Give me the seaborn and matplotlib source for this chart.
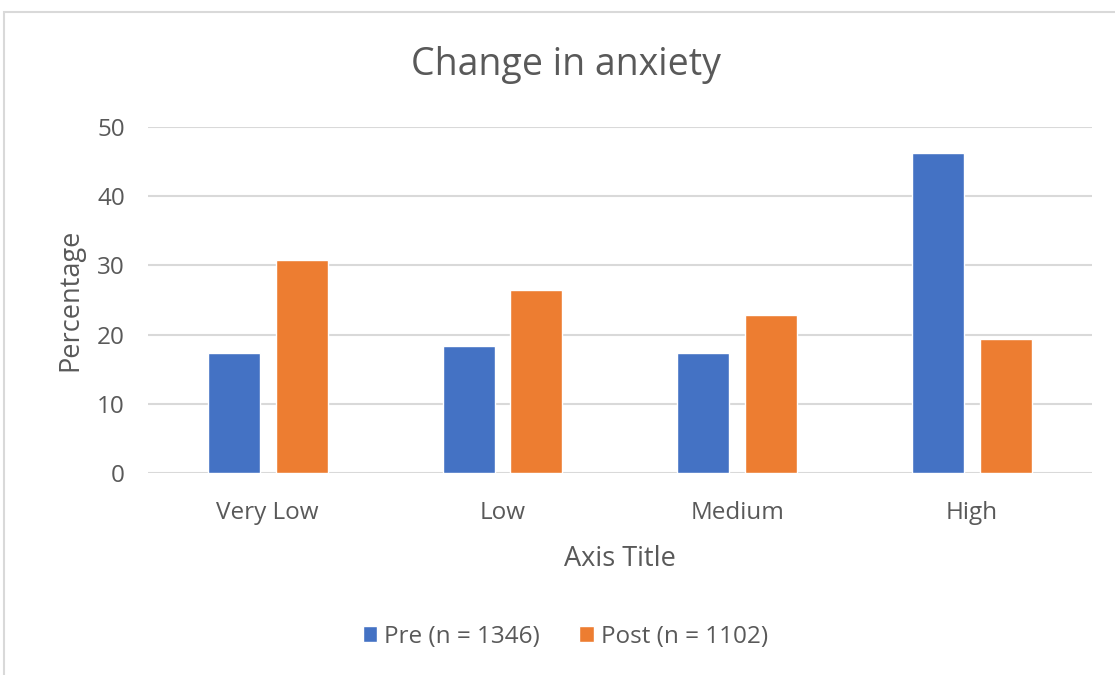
import pandas as pd
import numpy as np
import matplotlib.pyplot as plt
from matplotlib.patches import Rectangle
import seaborn as sns

# data
categories = ["Very Low", "Low", "Medium", "High"]
pre_values = [17.3, 18.4, 17.3, 46.2]
post_values = [30.8, 26.5, 22.9, 19.4]
series_names = ["Pre (n = 1346)", "Post (n = 1102)"]
y_ticks = [0, 10, 20, 30, 40, 50]

df = pd.DataFrame({
    "category": categories * 2,
    "value": pre_values + post_values,
    "series": [series_names[0]] * 4 + [series_names[1]] * 4,
})

sns.set_theme(style="white")
plt.rcParams['font.family'] = ['Open Sans', 'DejaVu Sans']
text_color = '#595959'

fig = plt.figure(figsize=(11.15, 6.75), dpi=100)
fig.patches.append(Rectangle((4 / 1115, -0.1), 1.2, 1 - 12 / 675 + 0.1,
                             transform=fig.transFigure, fill=False,
                             edgecolor='#d9d9d9', lw=1.5))
ax = fig.add_axes([0.1327, 0.2988, 0.979 - 0.1327, 0.8123 - 0.2988])

sns.barplot(data=df, x="category", y="value", hue="series", ax=ax,
            palette=['#4472C4', '#ED7D31'], width=0.577, gap=0.233,
            saturation=1, zorder=3)

ax.set_ylim(0, 50)
ax.set_xlim(-0.51, 3.51)
ax.set_yticks(y_ticks)
ax.grid(axis='y', color='#d9d9d9', lw=1.5, zorder=0)
ax.grid(axis='x', visible=False)
for s in ax.spines.values():
    s.set_visible(False)
ax.tick_params(length=0, labelsize=17.5, colors=text_color)
ax.tick_params(axis='x', pad=20)
ax.tick_params(axis='y', pad=16.5)

ax.set_xlabel("Axis Title", fontsize=19.5, color=text_color, labelpad=14)
ax.set_ylabel("Percentage", fontsize=19.5, color=text_color, labelpad=9)
fig.text(0.508, 0.903, "Change in anxiety", ha='center', va='center',
         fontsize=27, color=text_color)

handles, labels = ax.get_legend_handles_labels()
ax.legend(handles, labels, loc='center', bbox_to_anchor=(0.507, 0.057),
          bbox_transform=fig.transFigure, ncol=2, frameon=False,
          fontsize=17.5, labelcolor=text_color, handlelength=0.6,
          handleheight=0.6, handletextpad=0.3, columnspacing=1.6)

plt.savefig("out.png", dpi=100)
plt.close()
